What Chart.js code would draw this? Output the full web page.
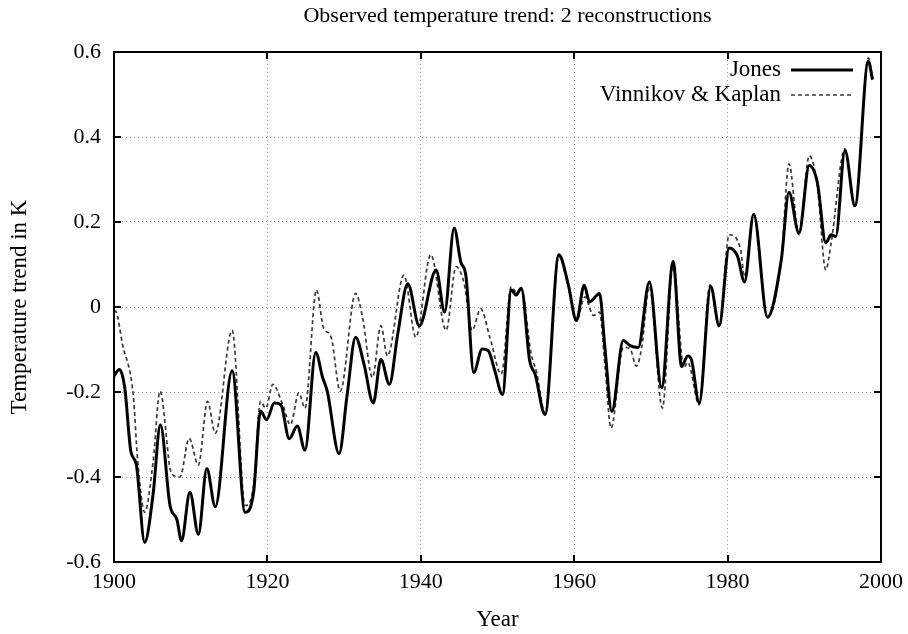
<!DOCTYPE html>
<html><head><meta charset="utf-8">
<script src="https://cdn.jsdelivr.net/npm/chart.js@4.4.1/dist/chart.umd.min.js"></script>
<style>html,body{margin:0;padding:0;background:#fff;} #wrap{width:908px;height:634px;}</style>
</head><body><div id="wrap"><canvas id="c" width="908" height="634"></canvas></div>
<script>
const chartTitle = "Observed temperature trend: 2 reconstructions";
const xAxisTitle = "Year";
const yAxisTitle = "Temperature trend in K";
const seriesNames = ["Jones", "Vinnikov & Kaplan"];
const xTicks = [1900, 1920, 1940, 1960, 1980, 2000];
const yTicks = [-0.6, -0.4, -0.2, 0, 0.2, 0.4, 0.6];

const jonesYears = [1900.0,1900.7,1901.4,1902.2,1902.9,1904.0,1905.1,1906.05,1907.3,1908.2,1908.8,1909.9,1911.0,1912.1,1913.2,1915.4,1917.1,1918.2,1919.1,1919.9,1920.9,1921.75,1922.85,1923.9,1924.9,1926.3,1927.2,1927.8,1929.35,1930.4,1931.5,1932.6,1933.8,1934.8,1935.9,1937.0,1938.3,1939.8,1942.0,1943.1,1944.35,1945.2,1945.9,1946.9,1948.0,1948.8,1949.65,1950.65,1951.8,1952.4,1953.1,1954.2,1954.9,1956.2,1958.0,1959.2,1960.3,1961.3,1962.0,1963.3,1964.0,1964.9,1966.4,1967.3,1968.35,1969.8,1971.4,1972.9,1974.0,1974.8,1975.3,1976.3,1977.8,1978.9,1980.2,1981.3,1982.2,1983.4,1985.2,1987.0,1988.0,1989.3,1990.65,1991.7,1992.8,1993.5,1994.1,1995.3,1996.6,1998.35,1998.9];
const jonesValues = [-0.162,-0.147,-0.19,-0.34,-0.37,-0.554,-0.44,-0.277,-0.467,-0.50,-0.55,-0.436,-0.535,-0.38,-0.47,-0.15,-0.483,-0.436,-0.245,-0.265,-0.226,-0.23,-0.31,-0.28,-0.337,-0.107,-0.166,-0.198,-0.345,-0.206,-0.071,-0.135,-0.226,-0.123,-0.182,-0.063,0.055,-0.044,0.087,-0.012,0.186,0.107,0.071,-0.154,-0.099,-0.103,-0.15,-0.206,0.04,0.028,0.044,-0.127,-0.158,-0.253,0.123,0.055,-0.032,0.051,0.012,0.032,-0.095,-0.246,-0.079,-0.091,-0.095,0.059,-0.19,0.107,-0.14,-0.115,-0.125,-0.226,0.048,-0.044,0.139,0.119,0.059,0.218,-0.024,0.111,0.27,0.174,0.333,0.293,0.151,0.17,0.166,0.368,0.238,0.578,0.535];

const vkYears = [1900.0,1900.3,1901.1,1902.5,1903.1,1904.0,1905.1,1906.0,1907.5,1908.6,1909.8,1911.0,1912.2,1913.2,1915.4,1917.1,1918.2,1919.1,1919.8,1920.7,1922.0,1923.0,1924.1,1924.9,1926.4,1927.3,1928.3,1929.5,1931.5,1932.4,1933.7,1934.8,1935.65,1937.8,1939.35,1941.3,1943.3,1944.6,1945.65,1946.7,1947.8,1949.0,1950.5,1951.8,1952.4,1953.1,1954.4,1955.1,1956.2,1958.0,1959.2,1960.3,1961.4,1962.5,1963.3,1964.0,1964.8,1966.4,1967.3,1968.1,1968.8,1969.8,1971.5,1972.9,1974.3,1974.8,1976.3,1977.7,1978.9,1980.2,1981.7,1982.2,1983.4,1985.2,1987.0,1988.0,1989.3,1990.65,1991.7,1992.8,1993.5,1995.3,1996.6,1998.35,1998.9];
const vkValues = [-0.008,-0.012,-0.087,-0.206,-0.364,-0.483,-0.364,-0.198,-0.392,-0.40,-0.309,-0.372,-0.222,-0.297,-0.055,-0.467,-0.42,-0.222,-0.238,-0.182,-0.23,-0.277,-0.202,-0.238,0.04,-0.048,-0.071,-0.198,0.032,-0.024,-0.166,-0.044,-0.115,0.075,-0.071,0.123,-0.055,0.095,0.055,-0.055,-0.004,-0.071,-0.158,0.048,0.036,0.04,-0.111,-0.154,-0.25,0.119,0.05,-0.032,0.024,-0.02,-0.012,-0.135,-0.285,-0.095,-0.099,-0.139,-0.095,0.048,-0.238,0.099,-0.143,-0.13,-0.23,0.052,-0.048,0.17,0.135,0.071,0.218,-0.024,0.111,0.337,0.17,0.356,0.285,0.087,0.151,0.372,0.234,0.586,0.539];

const SERIF = '"Liberation Serif", "DejaVu Serif", serif';
const toPoints = (xs, ys) => xs.map((x, i) => ({ x: x, y: ys[i] }));

const framePlugin = {
  id: 'frame',
  afterDatasetsDraw(chart) {
    const { ctx, chartArea: a, scales } = chart;
    ctx.save();
    ctx.strokeStyle = '#000';
    ctx.lineWidth = 2;
    ctx.setLineDash([]);
    ctx.strokeRect(a.left, a.top, a.right - a.left, a.bottom - a.top);
    const tl = 7;
    ctx.beginPath();
    xTicks.forEach(v => {
      const px = Math.round(scales.x.getPixelForValue(v));
      ctx.moveTo(px, a.bottom); ctx.lineTo(px, a.bottom - tl);
      ctx.moveTo(px, a.top); ctx.lineTo(px, a.top + tl);
    });
    yTicks.forEach(v => {
      const py = Math.round(scales.y.getPixelForValue(v));
      ctx.moveTo(a.left, py); ctx.lineTo(a.left + tl, py);
      ctx.moveTo(a.right, py); ctx.lineTo(a.right - tl, py);
    });
    ctx.stroke();
    ctx.fillStyle = '#000';
    ctx.font = '22px ' + SERIF;
    ctx.textAlign = 'center';
    ctx.textBaseline = 'middle';
    ctx.fillText(chartTitle, (a.left + a.right) / 2 + 10, 16);
    ctx.font = '23px ' + SERIF;
    ctx.textAlign = 'right';
    const lx0 = a.right - 90, lx1 = a.right - 28;
    const rows = [a.top + 18, a.top + 43];
    chart.data.datasets.forEach((ds, i) => {
      ctx.fillStyle = '#000';
      ctx.fillText(ds.label, lx0 - 10, rows[i]);
      ctx.strokeStyle = ds.borderColor;
      ctx.lineWidth = ds.borderWidth;
      ctx.setLineDash(ds.borderDash || []);
      ctx.beginPath();
      ctx.moveTo(lx0, rows[i]); ctx.lineTo(lx1, rows[i]);
      ctx.stroke();
    });
    ctx.restore();
  }
};

new Chart(document.getElementById('c'), {
  type: 'line',
  data: {
    datasets: [
      { label: seriesNames[0], data: toPoints(jonesYears, jonesValues), borderColor: '#000', borderWidth: 3, pointRadius: 0, cubicInterpolationMode: 'monotone', fill: false },
      { label: seriesNames[1], data: toPoints(vkYears, vkValues), borderColor: '#3a3a3a', borderWidth: 1.7, borderDash: [4, 3], pointRadius: 0, cubicInterpolationMode: 'monotone', fill: false }
    ]
  },
  options: {
    responsive: false,
    animation: false,
    devicePixelRatio: 1,
    layout: { padding: { top: 52, right: 27, bottom: 0, left: 0 } },
    plugins: { legend: { display: false }, title: { display: false }, tooltip: { enabled: false } },
    scales: {
      x: {
        type: 'linear', min: 1900, max: 2000,
        afterBuildTicks: s => { s.ticks = xTicks.map(v => ({ value: v })); },
        afterFit: s => { s.height = 72; s.paddingLeft = 0; s.paddingRight = 0; },
        grid: { color: '#999', lineWidth: 1, tickLength: 0, drawTicks: false },
        border: { display: false, dash: [1, 3] },
        ticks: { color: '#000', font: { family: SERIF, size: 22 }, padding: 7, maxRotation: 0, callback: v => String(v) },
        title: { display: true, text: xAxisTitle, color: '#000', font: { family: SERIF, size: 23 }, padding: { top: 0, bottom: 0 } }
      },
      y: {
        type: 'linear', min: -0.6, max: 0.6,
        afterBuildTicks: s => { s.ticks = yTicks.map(v => ({ value: v })); },
        afterFit: s => { s.width = 114; },
        grid: { color: '#999', lineWidth: 1, tickLength: 0, drawTicks: false },
        border: { display: false, dash: [1, 3] },
        ticks: { color: '#000', font: { family: SERIF, size: 22 }, padding: 13, callback: v => String(Number(Number(v).toFixed(1))) },
        title: { display: true, text: yAxisTitle, color: '#000', font: { family: SERIF, size: 23 }, padding: { top: 6, bottom: 0 } }
      }
    }
  },
  plugins: [framePlugin]
});
</script>
</body></html>
